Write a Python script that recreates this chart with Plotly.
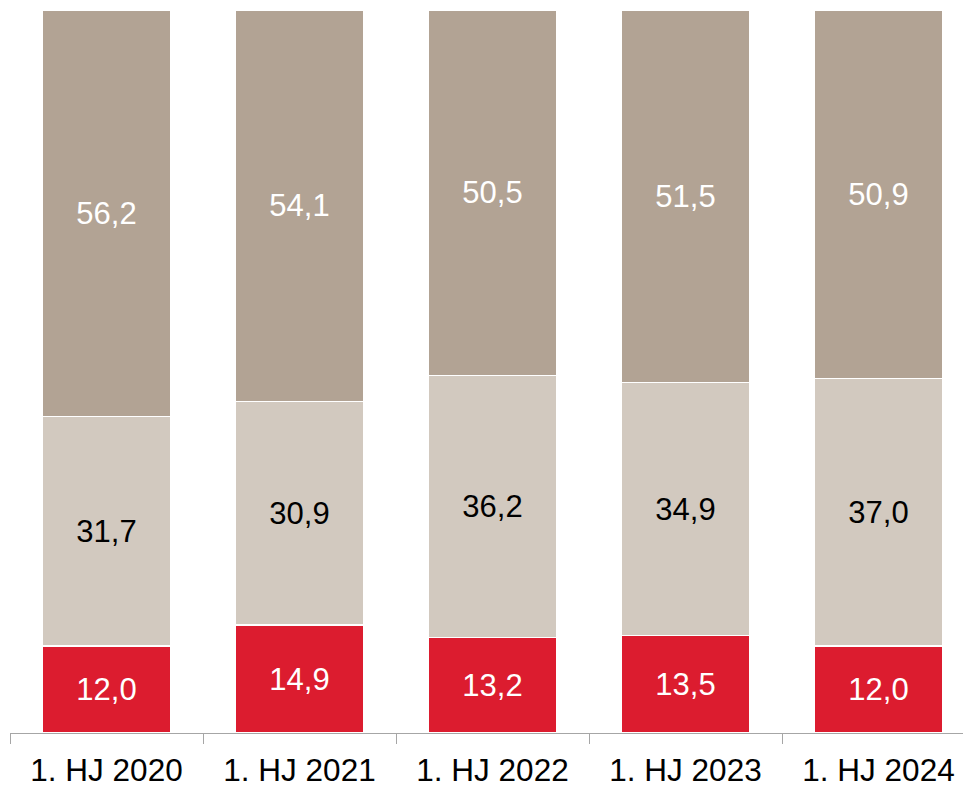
import plotly.graph_objects as go

categories = ["1. HJ 2020", "1. HJ 2021", "1. HJ 2022", "1. HJ 2023", "1. HJ 2024"]
red_vals = [12.0, 14.9, 13.2, 13.5, 12.0]
mid_vals = [31.7, 30.9, 36.2, 34.9, 37.0]
top_vals = [56.2, 54.1, 50.5, 51.5, 50.9]

def fmt(v):
    return f"{v:.1f}".replace(".", ",")

fig = go.Figure()
series = [
    (red_vals, "#DC1C2F", "white"),
    (mid_vals, "#D2C9BF", "black"),
    (top_vals, "#B2A394", "white"),
]
for vals, col, tcol in series:
    fig.add_trace(go.Bar(
        x=categories, y=vals,
        marker=dict(color=col, line=dict(color="white", width=1.5)),
        text=[fmt(v) for v in vals],
        textposition="inside", insidetextanchor="middle", textangle=0,
        constraintext="none",
        textfont=dict(family="Liberation Sans, Arial, sans-serif", size=31, color=tcol),
        hoverinfo="skip",
    ))

fig.update_layout(
    barmode="stack", bargap=0.33,
    width=971, height=786,
    margin=dict(l=2, r=4, t=2, b=61),
    paper_bgcolor="white", plot_bgcolor="white",
    showlegend=False,
    font=dict(family="Liberation Sans, Arial, sans-serif", size=31, color="black"),
    xaxis=dict(
        range=[-0.5, 4.5],
        showline=True, linecolor="#A6A6A6", linewidth=1,
        ticks="outside", tickson="boundaries", ticklen=10, tickcolor="#A6A6A6",
        tickfont=dict(size=31.5, color="black"),
        ticklabelstandoff=9,
        showgrid=False, zeroline=False,
    ),
    yaxis=dict(range=[0, 99.9], visible=False, showgrid=False, zeroline=False),
)

fig.write_html("out.html")
